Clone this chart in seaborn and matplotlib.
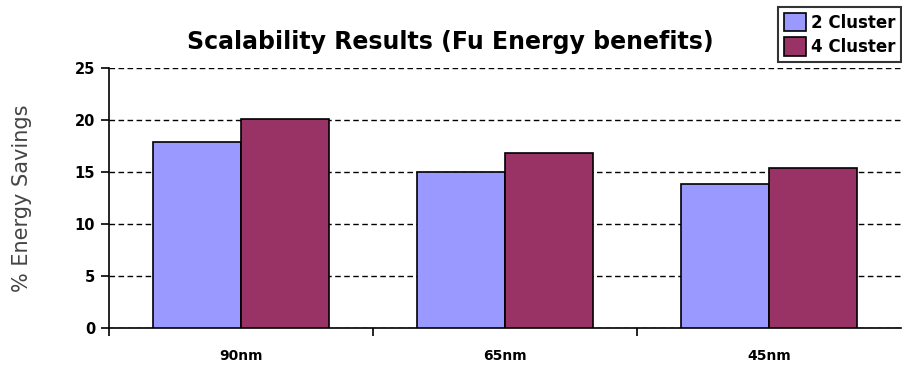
import matplotlib
matplotlib.use("Agg")
import matplotlib.pyplot as plt
import seaborn as sns
import pandas as pd
from matplotlib.ticker import FixedLocator

# Datos
nodes = ['90nm', '65nm', '45nm']
series = ['2 Cluster', '4 Cluster']
cluster2 = [17.9, 15.0, 13.85]
cluster4 = [20.1, 16.8, 15.4]
yticks = [0, 5, 10, 15, 20, 25]
colors = ['#9999FF', '#993366']

df = pd.DataFrame({
    'node': nodes * 2,
    'config': [series[0]] * 3 + [series[1]] * 3,
    'savings': cluster2 + cluster4,
})

sns.set_style('white')
plt.rcParams['font.family'] = ['DejaVu Sans']
plt.rcParams['text.color'] = 'black'
plt.rcParams['xtick.color'] = 'black'
plt.rcParams['ytick.color'] = 'black'

fig = plt.figure(figsize=(9.03, 3.72), dpi=100)
ax = fig.add_axes([109 / 903, 1 - 328 / 372, (901 - 109) / 903, (328 - 68) / 372])

sns.barplot(data=df, x='node', y='savings', hue='config', palette=colors,
            width=0.667, gap=0, edgecolor='black', linewidth=1.2,
            saturation=1, legend=False, ax=ax, zorder=3)

ax.set_xlim(-0.5, 2.5)
ax.set_ylim(0, 25)
ax.set_yticks(yticks)
ax.set_yticklabels([str(t) for t in yticks], fontweight='bold', fontsize=10.5)
ax.yaxis.grid(True, linestyle=(0, (4, 2.5)), color='black', linewidth=1, zorder=0)
ax.set_axisbelow(True)
ax.tick_params(axis='y', direction='out', length=6, width=1.2, color='black', left=True, pad=4)
ax.tick_params(axis='x', which='major', length=0, pad=15)
ax.xaxis.set_minor_locator(FixedLocator([-0.5, 0.5, 1.5]))
ax.tick_params(axis='x', which='minor', direction='out', length=6, width=1.2, color='black', bottom=True)
for lbl in ax.get_xticklabels():
    lbl.set_fontweight('bold')
    lbl.set_fontsize(10)

for s in ['top', 'right']:
    ax.spines[s].set_visible(False)
for s in ['left', 'bottom']:
    ax.spines[s].set_color('black')
    ax.spines[s].set_linewidth(1.2)

ax.set_xlabel('')
ax.set_ylabel('')
fig.text(22 / 903, 1 - 198 / 372, '% Energy Savings', fontsize=15, color='#444444',
         rotation=90, ha='center', va='center')
fig.text(450 / 903, 1 - 42 / 372, 'Scalability Results (Fu Energy benefits)',
         fontsize=17, fontweight='bold', ha='center', va='center')

handles = [plt.Rectangle((0, 0), 1, 1, facecolor=c, edgecolor='black', linewidth=1.2) for c in colors]
leg = fig.legend(handles, series, loc='upper right', bbox_to_anchor=(901 / 903, 1 - 7 / 372),
                 frameon=True, fancybox=False, edgecolor='black', handlelength=1.3, handleheight=1.3,
                 handletextpad=0.3, borderpad=0.35, labelspacing=0.35, borderaxespad=0,
                 prop={'weight': 'bold', 'size': 12})
leg.get_frame().set_linewidth(1.5)

fig.savefig('out.png', dpi=100)
